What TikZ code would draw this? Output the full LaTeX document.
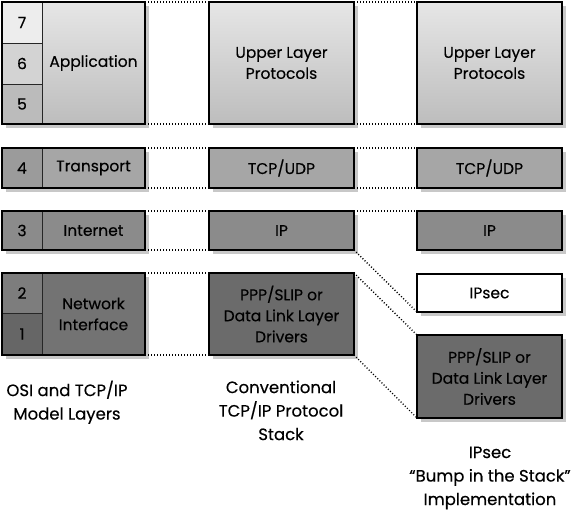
\documentclass[tikz,border=0pt]{standalone}
\usepackage{fontspec}
\setmainfont{Poppins}[FakeBold=0.35]
\usetikzlibrary{backgrounds}
\definecolor{shadowc}{HTML}{C8C8C8}
\definecolor{cA}{HTML}{E6E6E6}
\definecolor{cAb}{HTML}{BDBDBD}
\definecolor{cSeven}{HTML}{EDEDED}
\definecolor{cSix}{HTML}{D3D3D3}
\definecolor{cFive}{HTML}{BBBBBB}
\definecolor{cT}{HTML}{A6A6A6}
\definecolor{cFour}{HTML}{9B9B9B}
\definecolor{cI}{HTML}{8B8B8B}
\definecolor{cN}{HTML}{737373}
\definecolor{cTwo}{HTML}{7D7D7D}
\definecolor{cOne}{HTML}{666666}
\definecolor{cP}{HTML}{6B6B6B}
\tikzset{
  cell/.style={draw=black!85, line width=0.6pt, inner sep=0pt, outer sep=0pt,
    anchor=north west, align=center, font=\fontsize{15.5}{21}\selectfont},
  frame/.style={draw=black, line width=2pt},
  conn/.style={draw=black, line width=1.4pt, dash pattern=on 1pt off 2pt},
  caption/.style={align=center, font=\fontsize{16.5}{23.5}\selectfont, anchor=north},
  shade/.style={fill=shadowc}
}
\newcommand{\myShadowBox}[2]{\fill[shade] ([xshift=4pt,yshift=-4pt]#1.north west) rectangle ([xshift=4pt,yshift=-4pt]#2.south east);}
\newcommand{\myFrameBox}[2]{\draw[frame] (#1.north west) rectangle (#2.south east);}
\begin{document}
\begin{tikzpicture}[x=1pt,y=-1pt]
\useasboundingbox (0,0) rectangle (588,519);
% ---------- column 1
\node[cell, minimum width=40, minimum height=41, fill=cSeven] (n7) at (2,2) {7};
\node[cell, minimum width=40, minimum height=41, fill=cSix] (n6) at (2,43) {6};
\node[cell, minimum width=40, minimum height=40, fill=cFive] (n5) at (2,84) {5};
\node[cell, minimum width=103, minimum height=122, top color=cA, bottom color=cAb] (app) at (42,2) {Application};
\node[cell, minimum width=40, minimum height=40, fill=cFour] (n4) at (2,148) {4};
\node[cell, minimum width=103, minimum height=40, fill=cT] (trn) at (42,148) {Transport};
\node[cell, minimum width=40, minimum height=39, fill=cI] (n3) at (2,211) {3};
\node[cell, minimum width=103, minimum height=39, fill=cI] (inet) at (42,211) {Internet};
\node[cell, minimum width=40, minimum height=40, fill=cTwo] (n2) at (2,273) {2};
\node[cell, minimum width=40, minimum height=42, fill=cOne] (n1) at (2,313) {1};
\node[cell, minimum width=103, minimum height=82, fill=cN] (nif) at (42,273) {Network\\Interface};
% ---------- column 2
\node[cell, minimum width=145, minimum height=122, top color=cA, bottom color=cAb] (up2) at (209,2) {Upper Layer\\Protocols};
\node[cell, minimum width=145, minimum height=40, fill=cT] (tcp2) at (209,148) {TCP/UDP};
\node[cell, minimum width=145, minimum height=39, fill=cI] (ip2) at (209,211) {IP};
\node[cell, minimum width=145, minimum height=82, fill=cP] (ppp2) at (209,273) {PPP/SLIP or\\Data Link Layer\\Drivers};
% ---------- column 3
\node[cell, minimum width=145, minimum height=122, top color=cA, bottom color=cAb] (up3) at (417,2) {Upper Layer\\Protocols};
\node[cell, minimum width=145, minimum height=40, fill=cT] (tcp3) at (417,148) {TCP/UDP};
\node[cell, minimum width=145, minimum height=39, fill=cI] (ip3) at (417,211) {IP};
\node[cell, minimum width=145, minimum height=38, fill=white] (sec3) at (417,274) {IPsec};
\node[cell, minimum width=145, minimum height=83, fill=cP] (ppp3) at (417,335) {PPP/SLIP or\\Data Link Layer\\Drivers};
% ---------- frames
\myFrameBox{n7}{app}
\myFrameBox{n4}{trn}
\myFrameBox{n3}{inet}
\myFrameBox{n2}{nif}
\foreach \b in {up2,tcp2,ip2,ppp2,up3,tcp3,ip3,sec3,ppp3} {\myFrameBox{\b}{\b}}
% ---------- shadows
\begin{scope}[on background layer]
\myShadowBox{n7}{app}
\myShadowBox{n4}{trn}
\myShadowBox{n3}{inet}
\myShadowBox{n2}{nif}
\foreach \b in {up2,tcp2,ip2,ppp2,up3,tcp3,ip3,sec3,ppp3} {\myShadowBox{\b}{\b}}
\end{scope}
% ---------- connectors
\draw[conn] (app.north east) -- (up2.north west);
\draw[conn] (app.south east) -- (up2.south west);
\draw[conn] (trn.north east) -- (tcp2.north west);
\draw[conn] (trn.south east) -- (tcp2.south west);
\draw[conn] (inet.north east) -- (ip2.north west);
\draw[conn] (inet.south east) -- (ip2.south west);
\draw[conn] (nif.north east) -- (ppp2.north west);
\draw[conn] (nif.south east) -- (ppp2.south west);
\draw[conn] (up2.north east) -- (up3.north west);
\draw[conn] (up2.south east) -- (up3.south west);
\draw[conn] (tcp2.north east) -- (tcp3.north west);
\draw[conn] (tcp2.south east) -- (tcp3.south west);
\draw[conn] (ip2.north east) -- (ip3.north west);
\draw[conn] (ip2.south east) -- (sec3.south west);
\draw[conn] (ppp2.north east) -- (ppp3.north west);
\draw[conn] (ppp2.south east) -- (ppp3.south west);
% ---------- captions
\node[caption] (cap1) at (67,377) {OSI and TCP/IP\\Model Layers};
\node[caption] (cap2) at (281,377) {Conventional\\TCP/IP Protocol\\Stack};
\node[caption] (cap3) at (490,443) {IPsec\\“Bump in the Stack”\\Implementation};
\end{tikzpicture}
\end{document}
